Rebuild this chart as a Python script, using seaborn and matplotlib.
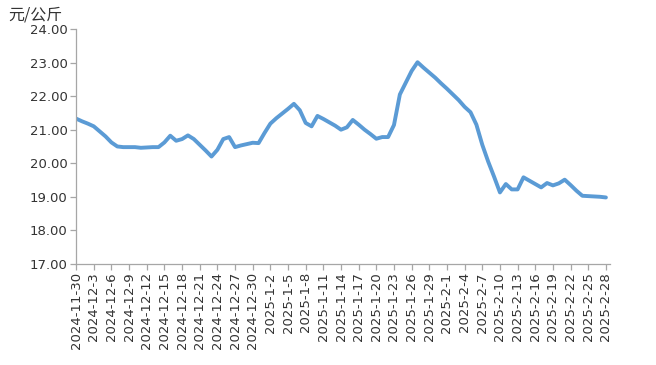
import matplotlib
matplotlib.use("Agg")
import matplotlib.pyplot as plt
import seaborn as sns
import pandas as pd
import numpy as np

start_date = "2024-11-30"
prices = [
    21.33, 21.25, 21.18, 21.10, 20.95, 20.80, 20.62, 20.50, 20.48, 20.48,
    20.48, 20.46, 20.47, 20.48, 20.48, 20.62, 20.82, 20.67, 20.72, 20.83,
    20.72, 20.55, 20.38, 20.20, 20.40, 20.72, 20.78, 20.48, 20.53, 20.57,
    20.61, 20.60, 20.90, 21.18, 21.34, 21.48, 21.62, 21.77, 21.58, 21.20,
    21.10, 21.41, 21.32, 21.22, 21.12, 21.00, 21.07, 21.29, 21.15, 21.00,
    20.87, 20.73, 20.78, 20.78, 21.14, 22.05, 22.40, 22.75, 23.01, 22.85,
    22.70, 22.55, 22.38, 22.22, 22.05, 21.88, 21.68, 21.52, 21.15, 20.55,
    20.05, 19.60, 19.13, 19.38, 19.22, 19.22, 19.58, 19.48, 19.38, 19.28,
    19.41, 19.34, 19.40, 19.51, 19.35, 19.18, 19.03, 19.02, 19.01, 19.00,
    18.98,
]
y_ticks = [17, 18, 19, 20, 21, 22, 23, 24]
unit_label = "元/公斤"

dates = pd.date_range(start_date, periods=len(prices), freq="D")
df = pd.DataFrame({"date": dates, "price": prices})

sns.set_theme(style="white")
plt.rcParams["font.family"] = ["DejaVu Sans", "Noto Sans CJK SC"]

fig = plt.figure(figsize=(6.56, 3.65), dpi=100)
ax = fig.add_axes([0.116, 0.277, 0.814, 0.6435])

sns.lineplot(data=df, x="date", y="price", ax=ax, color="#5B9BD5", linewidth=2.8)

ax.set_ylim(17, 24)
ax.set_yticks(y_ticks)
ax.set_yticklabels([f"{v:.2f}" for v in y_ticks], fontsize=9.5, color="#333333")

tick_dates = dates[::3]
ax.set_xticks(tick_dates)
ax.set_xticklabels([f"{d.year}-{d.month}-{d.day}" for d in tick_dates],
                   rotation=90, fontsize=9.5, color="#333333")
ax.set_xlim(dates[0], dates[-1] + pd.Timedelta(hours=17))

ax.set_xlabel("")
ax.set_ylabel("")
for s in ["top", "right"]:
    ax.spines[s].set_visible(False)
for s in ["left", "bottom"]:
    ax.spines[s].set_color("#A6A6A6")
    ax.spines[s].set_linewidth(0.9)
ax.tick_params(axis="both", which="major", direction="out", length=4, width=0.9,
               color="#A6A6A6", pad=2, bottom=True, left=True)
ax.grid(False)

fig.text(8 / 656, 1 - 15 / 365, unit_label, fontsize=11.5, color="#333333",
         family=["Noto Sans CJK SC", "DejaVu Sans"], va="center", ha="left")

fig.savefig("out.png", dpi=100)
